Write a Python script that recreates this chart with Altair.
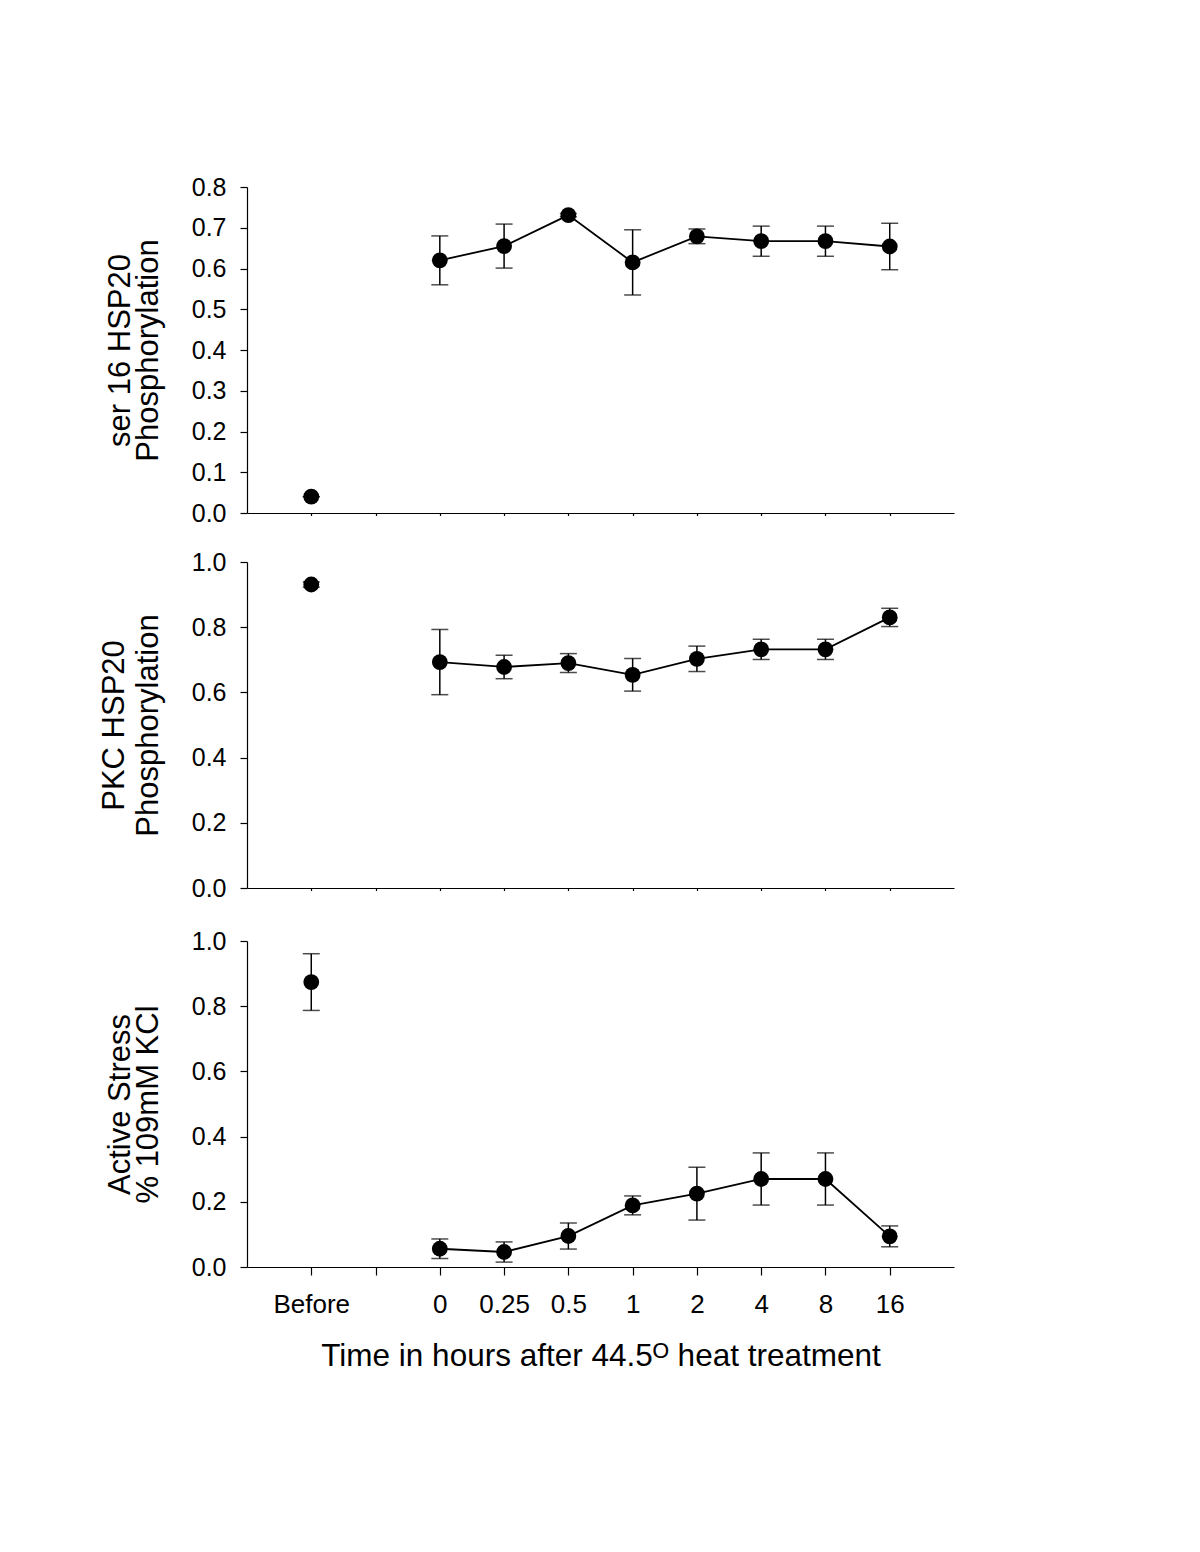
import json
import altair as alt
import pandas as pd

# x slots: "Before", an empty gap slot, then the hours after treatment
x_slots = ["Before", "", "0", "0.25", "0.5", "1", "2", "4", "8", "16"]
time_labels = ["Before", "0", "0.25", "0.5", "1", "2", "4", "8", "16"]

ser16_mean = [0.04, 0.62, 0.655, 0.731, 0.615, 0.679, 0.667, 0.667, 0.654]
ser16_err = [0.0, 0.06, 0.054, 0.004, 0.08, 0.018, 0.037, 0.037, 0.057]

pkc_mean = [0.931, 0.693, 0.678, 0.690, 0.654, 0.703, 0.732, 0.732, 0.830]
pkc_err = [0.008, 0.10, 0.036, 0.029, 0.05, 0.039, 0.031, 0.031, 0.028]

stress_mean = [0.874, 0.056, 0.046, 0.095, 0.189, 0.225, 0.270, 0.270, 0.094]
stress_err = [0.087, 0.030, 0.031, 0.040, 0.029, 0.081, 0.080, 0.080, 0.032]

FONT = "Liberation Sans"
W, H = 707, 326


def panel(mean, err, title, ymax, ystep, bottom, line_height, title_pad, top_gap=0):
    df = pd.DataFrame({
        "pos": [x_slots.index(t) for t in time_labels],
        "label": time_labels,
        "mean": mean,
        "err": err,
    })
    nticks = int(round(ymax / ystep)) + 1
    yvals = [round(i * ystep, 2) for i in range(nticks)]
    if bottom:
        xaxis = alt.Axis(
            values=list(range(len(x_slots))),
            labelExpr=json.dumps(x_slots) + "[datum.value]",
            tickSize=8, labelPadding=16, labelFontSize=26,
            title="Time in hours after 44.5\u1d3c heat treatment",
            titleFontSize=31.5, titlePadding=23,
        )
    else:
        xaxis = alt.Axis(values=list(range(len(x_slots))), labels=False,
                         tickSize=2.5, title=None)
    x = alt.X("pos:Q", scale=alt.Scale(domain=[-1, 10], nice=False, zero=False),
              axis=xaxis)
    yaxis = alt.Axis(values=yvals, format=".1f", tickSize=7, labelPadding=14,
                     labelFontSize=25, title=title, titleFontSize=31,
                     titleLineHeight=line_height, titlePadding=title_pad)
    h = H + top_gap
    yscale = alt.Scale(domain=[0, ymax], nice=False, zero=True, range=[h, top_gap])

    base = alt.Chart(df).transform_calculate(
        lo="datum.mean - datum.err", hi="datum.mean + datum.err"
    )
    rules = base.mark_rule(color="black", strokeWidth=1.5).encode(
        x=x, y=alt.Y("lo:Q", scale=yscale, axis=yaxis), y2="hi:Q"
    )
    cap_lo = base.mark_tick(color="black", orient="horizontal", size=17,
                            thickness=1.5).encode(
        x=x, y=alt.Y("lo:Q", scale=yscale, axis=yaxis))
    cap_hi = base.mark_tick(color="black", orient="horizontal", size=17,
                            thickness=1.5).encode(
        x=x, y=alt.Y("hi:Q", scale=yscale, axis=yaxis))
    line = base.transform_filter("datum.pos >= 2").mark_line(
        color="black", strokeWidth=1.8).encode(
        x=x, y=alt.Y("mean:Q", scale=yscale, axis=yaxis))
    pts = base.mark_circle(color="black", opacity=1, size=250).encode(
        x=x, y=alt.Y("mean:Q", scale=yscale, axis=yaxis))
    return alt.layer(rules, cap_lo, cap_hi, line, pts).properties(width=W, height=h)


p1 = panel(ser16_mean, ser16_err, ["ser 16 HSP20", "Phosphorylation"], 0.8, 0.1,
           False, 28, 27)
p2 = panel(pkc_mean, pkc_err, ["PKC HSP20", "Phosphorylation"], 1.0, 0.2,
           False, 34, 27)
p3 = panel(stress_mean, stress_err, ["Active Stress", "% 109mM KCl"], 1.0, 0.2,
           True, 28, 27, top_gap=4)

chart = alt.vconcat(p1, p2, p3, spacing=49, bounds="flush").properties(
    padding={"left": 90, "top": 167, "right": 20, "bottom": 20}
).configure_view(stroke=None).configure_axis(
    grid=False, domainColor="black", tickColor="black", labelColor="black",
    titleColor="black", labelFont=FONT, titleFont=FONT, titleFontWeight="normal",
    domainWidth=1.2, tickWidth=1.2,
)

chart.save("out.html", embed_options={"renderer": "svg", "actions": False})
